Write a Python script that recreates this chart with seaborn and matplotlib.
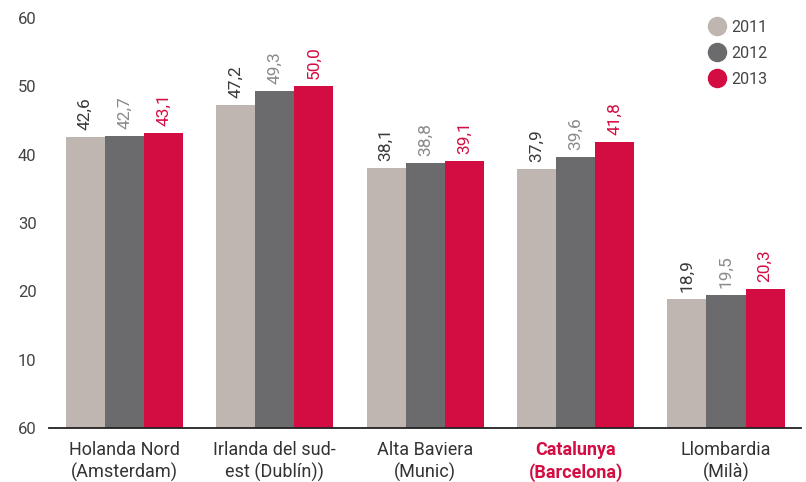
import matplotlib
matplotlib.use("Agg")
import matplotlib.pyplot as plt
from matplotlib.lines import Line2D
import seaborn as sns
import pandas as pd

regions = ["Holanda Nord\n(Amsterdam)", "Irlanda del sud-\nest (Dublín))", "Alta Baviera\n(Munic)",
           "Catalunya\n(Barcelona)", "Llombardia\n(Milà)"]
years = ["2011", "2012", "2013"]
v2011 = [42.6, 47.2, 38.1, 37.9, 18.9]
v2012 = [42.7, 49.3, 38.8, 39.6, 19.5]
v2013 = [43.1, 50.0, 39.1, 41.8, 20.3]
yticks = [0, 10, 20, 30, 40, 50, 60]
ytick_labels = ["60", "10", "20", "30", "40", "50", "60"]

colors = ["#c0b6b1", "#6b6b6d", "#d30d42"]
label_colors = ["#3a3a3a", "#8a8a8a", "#d30d42"]

rows = []
for yr, vals in zip(years, [v2011, v2012, v2013]):
    for r, v in zip(regions, vals):
        rows.append({"region": r, "year": yr, "value": v})
df = pd.DataFrame(rows)

sns.set_theme(style="white")
plt.rcParams['font.family'] = ['Roboto', 'DejaVu Sans']

fig = plt.figure(figsize=(8.06, 4.82), dpi=100)
ax = fig.add_axes([0.061, 0.112, 0.933, 0.851])

sns.barplot(data=df, x="region", y="value", hue="year", palette=colors,
            width=0.78, gap=0, ax=ax, legend=False, saturation=1, errorbar=None,
            linewidth=0, edgecolor="none")

for cont, lc in zip(ax.containers, label_colors):
    ax.bar_label(cont, labels=[f"{b.get_height():.1f}".replace(".", ",") for b in cont],
                 rotation=90, padding=5, color=lc, fontsize=12.5)

ax.set_ylim(0, 60)
ax.set_xlim(-0.5, 4.5)
ax.set_yticks(yticks)
ax.set_yticklabels(ytick_labels, fontsize=12, color="#444444")
ax.set_xlabel("")
ax.set_ylabel("")
ax.tick_params(axis="y", length=0, pad=9)
ax.tick_params(axis="x", length=0, pad=9)
ax.set_xticks(range(len(regions)))
ax.set_xticklabels(regions, fontsize=13, color="#333333", linespacing=1.3)
ax.get_xticklabels()[3].set_color("#d30d42")
ax.get_xticklabels()[3].set_fontweight("bold")

for s in ["top", "right", "left"]:
    ax.spines[s].set_visible(False)
ax.spines["bottom"].set_color("#222222")
ax.spines["bottom"].set_linewidth(1.3)

handles = [Line2D([0], [0], marker="o", linestyle="", markersize=13,
                  markerfacecolor=c, markeredgecolor=c) for c in colors]
leg = ax.legend(handles, years, loc="upper right", bbox_to_anchor=(0.975, 1.03),
                frameon=False, fontsize=11.5, handletextpad=0.3, labelspacing=0.68,
                handlelength=1.2)
for t in leg.get_texts():
    t.set_color("#444444")

fig.savefig("out.png", dpi=100)
